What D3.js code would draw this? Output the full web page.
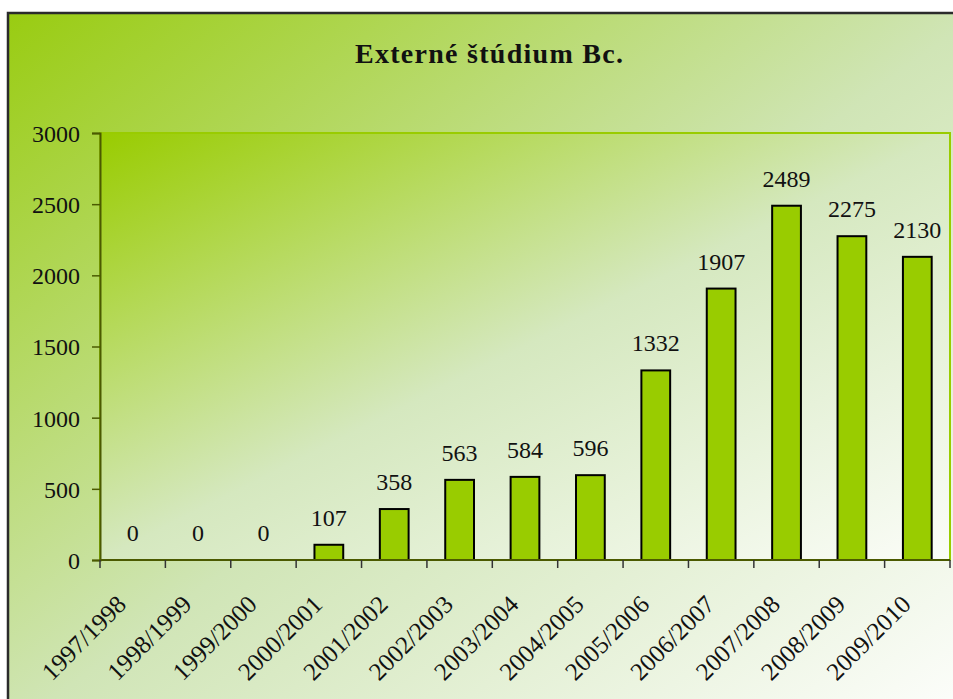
<!DOCTYPE html>
<html>
<head>
<meta charset="utf-8">
<script src="https://cdn.jsdelivr.net/npm/d3@7"></script>
<style>
  body { margin: 0; background: #fff; }
  svg { display: block; }
</style>
</head>
<body>
<svg id="chart" width="953" height="699"></svg>
<script>
// data
const years = ["1997/1998", "1998/1999", "1999/2000", "2000/2001", "2001/2002", "2002/2003",
  "2003/2004", "2004/2005", "2005/2006", "2006/2007", "2007/2008", "2008/2009", "2009/2010"];
const students = [0, 0, 0, 107, 358, 563, 584, 596, 1332, 1907, 2489, 2275, 2130];
const yTicks = [0, 500, 1000, 1500, 2000, 2500, 3000];
const chartTitle = "Externé štúdium Bc.";

let svg = d3.select("#chart"),
    width = +svg.attr("width"),
    height = +svg.attr("height");

const margin = {left: 100, top: 133, right: 950, bottom: 560};
const font = "'Liberation Serif', 'Times New Roman', serif";

let defs = svg.append("defs");

function addGradient(id, stops) {
  let g = defs.append("linearGradient").attr("id", id)
    .attr("x1", 0).attr("y1", 0).attr("x2", 1).attr("y2", 1);
  stops.forEach(function(s) {
    g.append("stop").attr("offset", s[0]).attr("stop-color", s[1]);
  });
}
addGradient("outerBg", [[0, "#99cc11"], [0.5, "#d0e5b6"], [1, "#ffffff"]]);
addGradient("plotBg", [[0, "#99cc00"], [0.5, "#d5e8bf"], [1, "#fbfdf8"]]);

// outer frame (runs off the right and bottom edge)
svg.append("rect")
  .attr("x", 8).attr("y", 13)
  .attr("width", width + 20).attr("height", height + 20)
  .attr("fill", "url(#outerBg)")
  .attr("stroke", "#2b2b2b").attr("stroke-width", 2.5);

// plot area
svg.append("rect")
  .attr("x", margin.left).attr("y", margin.top)
  .attr("width", margin.right - margin.left)
  .attr("height", margin.bottom - margin.top)
  .attr("fill", "url(#plotBg)")
  .attr("stroke", "#99cc00").attr("stroke-width", 2);

// title
svg.append("text")
  .attr("x", 489).attr("y", 63)
  .attr("text-anchor", "middle")
  .attr("textLength", 268)
  .style("font-family", font)
  .style("font-weight", "bold")
  .style("font-size", "28px")
  .style("fill", "#111")
  .text(chartTitle);

let x = d3.scaleBand()
  .domain(years)
  .range([margin.left, margin.right])
  .paddingInner(0.56).paddingOuter(0.28);

let y = d3.scaleLinear()
  .domain([0, 3000])
  .range([margin.bottom, margin.top]);

// bars
svg.append("g")
  .selectAll("rect")
  .data(students)
  .enter().append("rect")
  .attr("x", function(d, i) { return x(years[i]); })
  .attr("y", function(d) { return y(d); })
  .attr("width", x.bandwidth())
  .attr("height", function(d) { return y(0) - y(d); })
  .attr("fill", function(d) { return d > 0 ? "#99cc00" : "none"; })
  .attr("stroke", function(d) { return d > 0 ? "#000" : "none"; })
  .attr("stroke-width", 2);

// value labels
svg.append("g")
  .selectAll("text")
  .data(students)
  .enter().append("text")
  .attr("x", function(d, i) { return x(years[i]) + x.bandwidth() / 2; })
  .attr("y", function(d) { return y(d) - 19; })
  .attr("text-anchor", "middle")
  .style("font-family", font)
  .style("font-size", "24px")
  .style("fill", "#111")
  .text(function(d) { return d; });

const axisColor = "#4b5a00";

// y axis
let yAxis = svg.append("g")
  .attr("transform", "translate(" + margin.left + ",0)")
  .call(d3.axisLeft(y).tickValues(yTicks).tickSize(8).tickPadding(12).tickFormat(d3.format("d")));
yAxis.select(".domain").attr("stroke", axisColor).attr("stroke-width", 2);
yAxis.selectAll(".tick line").attr("stroke", axisColor).attr("stroke-width", 1.5);
yAxis.selectAll("text")
  .style("font-family", font).style("font-size", "24px").attr("fill", "#111")
  .attr("dy", "0.35em");

// x axis with ticks on category boundaries
const boundaries = d3.range(years.length + 1).map(function(i) { return margin.left + i * (margin.right - margin.left) / years.length; });

let xAxis = svg.append("g");
xAxis.append("line")
  .attr("x1", margin.left).attr("x2", margin.right)
  .attr("y1", margin.bottom).attr("y2", margin.bottom)
  .attr("stroke", axisColor).attr("stroke-width", 2);
xAxis.selectAll("line.tick")
  .data(boundaries)
  .enter().append("line")
  .attr("class", "tick")
  .attr("x1", function(d) { return d; }).attr("x2", function(d) { return d; })
  .attr("y1", margin.bottom).attr("y2", margin.bottom + 8)
  .attr("stroke", "#333").attr("stroke-width", 1.5);

xAxis.selectAll("text")
  .data(years)
  .enter().append("text")
  .attr("transform", function(d) {
    return "translate(" + (x(d) + x.bandwidth() / 2 - 5) + "," + 606 + ") rotate(-45)";
  })
  .attr("text-anchor", "end")
  .style("font-family", font)
  .style("font-size", "25px")
  .style("fill", "#111")
  .text(function(d) { return d; });
</script>
</body>
</html>
